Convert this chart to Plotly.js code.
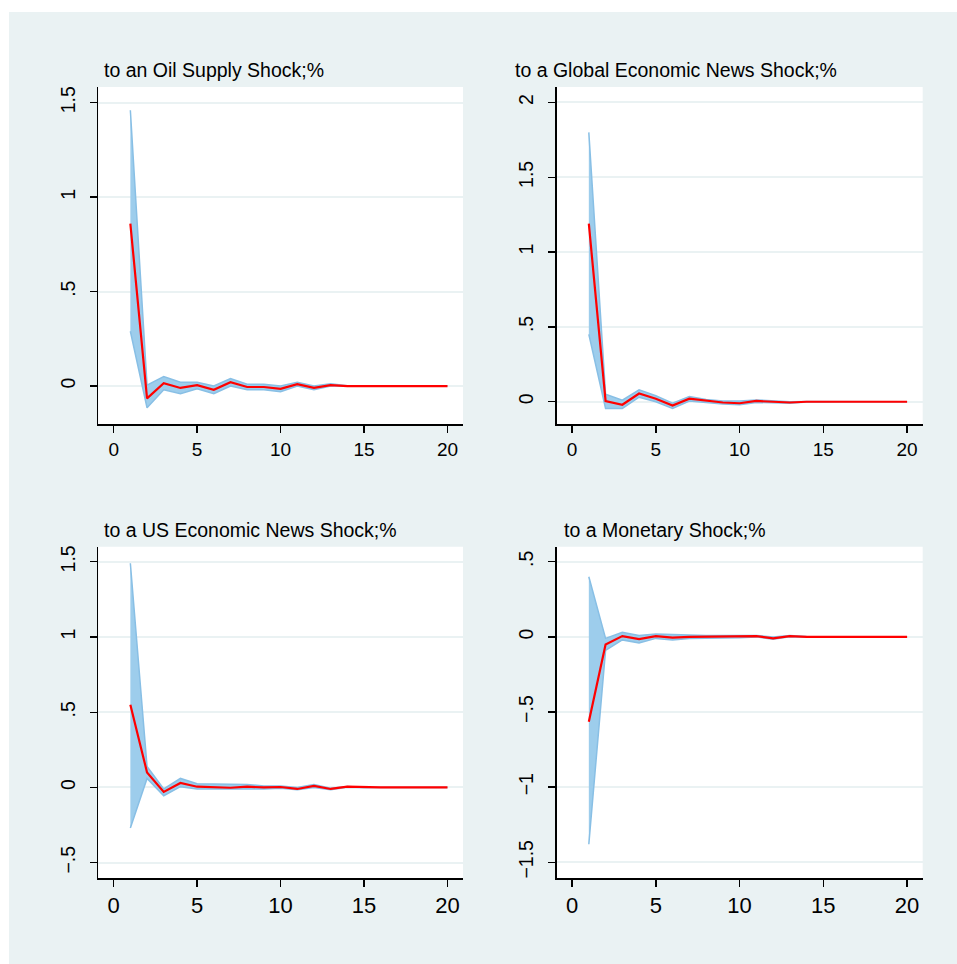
<!DOCTYPE html>
<html>
<head>
<meta charset="utf-8">
<script src="https://cdn.plot.ly/plotly-3.0.1.min.js"></script>
<style>
  body { margin: 0; background: #ffffff; }
  #chart { position: absolute; left: 9px; top: 12px; width: 948px; height: 952px; }
</style>
</head>
<body>
<div id="chart"></div>
<script>
// forecast horizon
var steps = [1, 2, 3, 4, 5, 6, 7, 8, 9, 10, 11, 12, 13, 14, 15, 16, 17, 18, 19, 20];

// oil supply shock
var irfOil = [0.86, -0.065, 0.015, -0.01, 0.005, -0.02, 0.02, -0.005, -0.005, -0.015, 0.01, -0.01, 0.005, 0, 0, 0, 0, 0, 0, 0];
var hiOil = [1.46, 0.005, 0.05, 0.02, 0.02, 0.0, 0.04, 0.01, 0.01, 0.0, 0.02, 0.0, 0.012, 0.002, 0.001, 0.001, 0, 0, 0, 0];
var loOil = [0.29, -0.115, -0.02, -0.04, -0.015, -0.04, 0.0, -0.02, -0.02, -0.03, 0.0, -0.02, 0.0, -0.003, -0.001, -0.001, 0, 0, 0, 0];

// global economic news shock
var irfGlobal = [1.19, 0.005, -0.02, 0.055, 0.02, -0.025, 0.02, 0.005, -0.005, -0.01, 0.005, 0.0, -0.005, 0, 0, 0, 0, 0, 0, 0];
var hiGlobal = [1.8, 0.05, 0.01, 0.08, 0.04, -0.01, 0.035, 0.015, 0.005, 0.005, 0.012, 0.005, 0.0, 0.002, 0.001, 0, 0, 0, 0, 0];
var loGlobal = [0.45, -0.045, -0.045, 0.03, 0.0, -0.045, 0.005, -0.005, -0.015, -0.02, -0.005, -0.007, -0.01, -0.002, -0.001, 0, 0, 0, 0, 0];

// US economic news shock
var irfUS = [0.55, 0.1, -0.03, 0.03, 0.005, 0.0, -0.002, 0.005, 0.0, 0.003, -0.01, 0.01, -0.01, 0.005, 0, 0, 0, 0, 0, 0];
var hiUS = [1.49, 0.14, -0.01, 0.06, 0.025, 0.025, 0.022, 0.02, 0.01, 0.01, 0.0, 0.02, -0.005, 0.007, 0.002, 0.001, 0, 0, 0, 0];
var loUS = [-0.27, 0.06, -0.055, 0.005, -0.01, -0.015, -0.015, -0.01, -0.01, -0.005, -0.015, 0.0, -0.015, 0.002, -0.002, -0.001, 0, 0, 0, 0];

// monetary shock
var irfMon = [-0.565, -0.05, 0.005, -0.015, 0.005, -0.005, 0.0, 0.0, 0.0, 0.0, 0.005, -0.01, 0.005, 0, 0, 0, 0, 0, 0, 0];
var hiMon = [0.4, -0.01, 0.03, 0.01, 0.02, 0.015, 0.015, 0.01, 0.01, 0.01, 0.01, 0.0, 0.01, 0.002, 0, 0, 0, 0, 0, 0];
var loMon = [-1.38, -0.09, -0.02, -0.04, -0.01, -0.02, -0.01, -0.01, -0.005, -0.005, 0.0, -0.015, 0.0, -0.002, 0, 0, 0, 0, 0, 0];

var titles = ["to an Oil Supply Shock;%", "to a Global Economic News Shock;%",
              "to a US Economic News Shock;%", "to a Monetary Shock;%"];

var xTicks = [0, 5, 10, 15, 20];
var yTickVals = [[0, 0.5, 1, 1.5], [0, 0.5, 1, 1.5, 2], [-0.5, 0, 0.5, 1, 1.5], [-1.5, -1, -0.5, 0, 0.5]];
var yTickText = [["0", ".5", "1", "1.5"], ["0", ".5", "1", "1.5", "2"],
                 ["\u2212.5", "0", ".5", "1", "1.5"], ["\u22121.5", "\u22121", "\u2212.5", "0", ".5"]];

var panels = [
  { irf: irfOil, hi: hiOil, lo: loOil, yr: [-0.201, 1.583] },
  { irf: irfGlobal, hi: hiGlobal, lo: loGlobal, yr: [-0.149, 2.103] },
  { irf: irfUS, hi: hiUS, lo: loUS, yr: [-0.604, 1.6] },
  { irf: irfMon, hi: hiMon, lo: loMon, yr: [-1.607, 0.6] }
];

var xDomains = [[0.0942, 0.4789], [0.5777, 0.9638], [0.0942, 0.4789], [0.5777, 0.9638]];
var yDomains = [[0.5672, 0.9212], [0.5672, 0.9212], [0.0900, 0.4383], [0.0900, 0.4383]];
var titlePos = [[0.0978, 0.939], [0.5313, 0.939], [0.0978, 0.456], [0.583, 0.456]];

var font = "Liberation Sans, Arial, sans-serif";
var data = [];
var layout = {
  width: 948,
  height: 952,
  margin: { l: 0, r: 0, t: 0, b: 0 },
  paper_bgcolor: "#eaf2f3",
  plot_bgcolor: "#ffffff",
  showlegend: false,
  font: { family: font, color: "#000000" },
  annotations: []
};

panels.forEach(function (p, i) {
  var n = i + 1;
  var xa = n === 1 ? "x" : "x" + n;
  var ya = n === 1 ? "y" : "y" + n;

  // confidence band as a closed polygon
  var bandX = steps.concat(steps.slice().reverse());
  var bandY = p.hi.concat(p.lo.slice().reverse());
  data.push({
    x: bandX, y: bandY, xaxis: xa, yaxis: ya,
    type: "scatter", mode: "lines", fill: "toself",
    fillcolor: "#9dcdec",
    line: { color: "#88bfe5", width: 1.5 },
    hoverinfo: "skip"
  });
  data.push({
    x: steps, y: p.irf, xaxis: xa, yaxis: ya,
    type: "scatter", mode: "lines",
    line: { color: "#ff0000", width: 2.2 }
  });

  var bottomRow = i >= 2;
  layout["xaxis" + (n === 1 ? "" : n)] = {
    domain: xDomains[i],
    anchor: ya,
    range: [-0.92, 20.93],
    tickvals: xTicks,
    ticks: "outside", ticklen: 7, tickwidth: 1.4, tickcolor: "#000000",
    ticklabelstandoff: bottomRow ? 0 : 1,
    showline: true, linecolor: "#000000", linewidth: 1.5,
    showgrid: false, zeroline: false,
    tickfont: { size: bottomRow ? 22 : 19, color: "#000000" },
    fixedrange: true
  };
  layout["yaxis" + (n === 1 ? "" : n)] = {
    domain: yDomains[i],
    anchor: xa,
    range: p.yr,
    tickvals: yTickVals[i],
    ticktext: yTickText[i],
    tickangle: -90,
    ticks: "outside", ticklen: 7, tickwidth: 1.4, tickcolor: "#000000",
    ticklabelstandoff: 7,
    showline: true, linecolor: "#000000", linewidth: 1.5,
    showgrid: true, gridcolor: "#eaf2f3", gridwidth: 2,
    zeroline: false,
    tickfont: { size: 19.5, color: "#000000" },
    fixedrange: true
  };
  layout.annotations.push({
    text: titles[i],
    xref: "paper", yref: "paper",
    x: titlePos[i][0], y: titlePos[i][1],
    xanchor: "left", yanchor: "middle",
    showarrow: false,
    font: { size: 19.5, color: "#000000", family: font }
  });
});

Plotly.newPlot("chart", data, layout, { displayModeBar: false, staticPlot: true });
</script>
</body>
</html>
